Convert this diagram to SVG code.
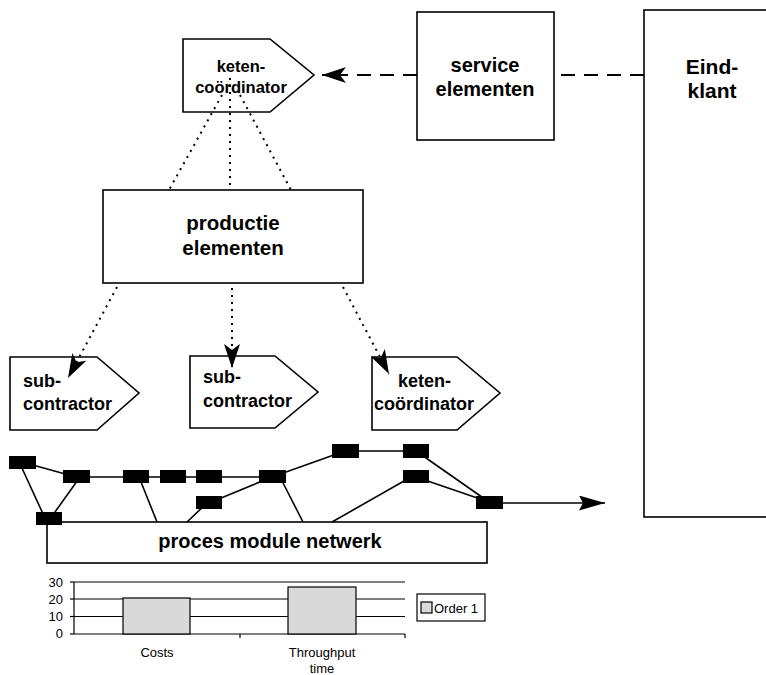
<svg xmlns="http://www.w3.org/2000/svg" width="766" height="675" viewBox="0 0 766 675">
<style>
.shape{fill:#fff;stroke:#000;stroke-width:1.6}
.lbl{font-family:"Liberation Sans",Arial,sans-serif;font-weight:bold;fill:#000}
.dash{fill:none;stroke:#000;stroke-width:2;stroke-dasharray:14 9}
.dot{fill:none;stroke:#000;stroke-width:2;stroke-dasharray:2 5}
.net{fill:none;stroke:#000;stroke-width:1.6}
.blk{fill:#000}
.grid{stroke:#000;stroke-width:1.2;fill:none}
.bar{fill:#d9d9d9;stroke:#000;stroke-width:1.2}
.ct{font-family:"Liberation Sans",Arial,sans-serif;font-size:13px;fill:#000}
</style>
<defs>
<marker id="ah" viewBox="0 0 24 16" refX="24" refY="8" markerWidth="24" markerHeight="16" markerUnits="userSpaceOnUse" orient="auto">
<path d="M0,0 L24,8 L0,16 L6,8 Z" fill="#000"/>
</marker>
<marker id="ah2" viewBox="0 0 26 15" refX="26" refY="7.5" markerWidth="26" markerHeight="15" markerUnits="userSpaceOnUse" orient="auto">
<path d="M0,0 L26,7.5 L0,15 L4,7.5 Z" fill="#000"/>
</marker>
</defs>

<g id="keten-coordinator-top">
<path class="shape" d="M183,39 L270,39 L314,75 L270,112 L183,112 Z"/>
<text class="lbl" font-size="16.5" text-anchor="middle" x="241" y="72">keten-</text>
<text class="lbl" font-size="16.5" text-anchor="middle" x="241" y="93">coördinator</text>
</g>
<g id="service-elementen">
<rect class="shape" x="417" y="12" width="137" height="128"/>
<text class="lbl" font-size="20" text-anchor="middle" x="485" y="72">service</text>
<text class="lbl" font-size="20" text-anchor="middle" x="485" y="96">elementen</text>
</g>
<g id="eind-klant">
<rect class="shape" x="644" y="10" width="140" height="507"/>
<text class="lbl" font-size="21" text-anchor="middle" x="712" y="74">Eind-</text>
<text class="lbl" font-size="21" text-anchor="middle" x="712" y="98">klant</text>
</g>
<g id="productie-elementen">
<rect class="shape" x="103" y="190" width="260" height="93"/>
<text class="lbl" font-size="20.5" text-anchor="middle" x="233" y="230">productie</text>
<text class="lbl" font-size="20.5" text-anchor="middle" x="233" y="255">elementen</text>
</g>
<g id="subcontractor-1">
<path class="shape" d="M10,357 L97,357 L139,393 L97,430 L10,430 Z"/>
<text class="lbl" font-size="18" x="23" y="387">sub-</text>
<text class="lbl" font-size="18" x="23" y="410">contractor</text>
</g>
<g id="subcontractor-2">
<path class="shape" d="M190,356 L275,356 L318,392 L275,428 L190,428 Z"/>
<text class="lbl" font-size="18" x="203" y="383">sub-</text>
<text class="lbl" font-size="18" x="203" y="407">contractor</text>
</g>
<g id="keten-coordinator-2">
<path class="shape" d="M372,357 L457,357 L500,393 L457,430 L372,430 Z"/>
<text class="lbl" font-size="18" x="398" y="387">keten-</text>
<text class="lbl" font-size="18" x="374" y="410">coördinator</text>
</g>
<g id="proces-module-netwerk">
<rect class="shape" x="47" y="522" width="440" height="41"/>
<text class="lbl" font-size="20" text-anchor="middle" x="270" y="548">proces module netwerk</text>
</g>

<g id="connectors">
<line class="dash" x1="644" y1="75" x2="554" y2="75"/>
<line class="dash" x1="417" y1="75" x2="322" y2="75" marker-end="url(#ah)"/>
<line class="dot" x1="222" y1="95" x2="169" y2="190"/>
<line class="dot" x1="230" y1="78" x2="230" y2="190"/>
<line class="dot" x1="240" y1="95" x2="291" y2="190"/>
<line class="dot" x1="117" y1="287" x2="68" y2="378" marker-end="url(#ah)"/>
<line class="dot" x1="232" y1="288" x2="232" y2="368" marker-end="url(#ah)"/>
<line class="dot" x1="343" y1="287" x2="389" y2="374" marker-end="url(#ah)"/>
<line class="net" x1="22" y1="462" x2="76" y2="477"/>
<line class="net" x1="21" y1="466" x2="44" y2="516"/>
<line class="net" x1="80" y1="477" x2="50" y2="519"/>
<line class="net" x1="76" y1="477" x2="272" y2="477"/>
<line class="net" x1="139" y1="477" x2="157" y2="522"/>
<line class="net" x1="208" y1="502" x2="187" y2="522"/>
<line class="net" x1="209" y1="503" x2="272" y2="477"/>
<line class="net" x1="272" y1="477" x2="345" y2="451"/>
<line class="net" x1="345" y1="451" x2="416" y2="451"/>
<line class="net" x1="416" y1="451" x2="489" y2="502"/>
<line class="net" x1="416" y1="477" x2="489" y2="502"/>
<line class="net" x1="280" y1="477" x2="303" y2="522"/>
<line class="net" x1="411" y1="477" x2="332" y2="522"/>
<line class="net" x1="489" y1="503" x2="605" y2="503" marker-end="url(#ah2)"/>
</g>

<g id="network-modules">
<g id="m1"><rect class="blk" x="9" y="456" width="27" height="13"/></g>
<g id="m2"><rect class="blk" x="63" y="470" width="27" height="13"/></g>
<g id="m3"><rect class="blk" x="123" y="470" width="26" height="13"/></g>
<g id="m4"><rect class="blk" x="160" y="470" width="26" height="13"/></g>
<g id="m5"><rect class="blk" x="196" y="470" width="26" height="13"/></g>
<g id="m6"><rect class="blk" x="196" y="496" width="26" height="13"/></g>
<g id="m7"><rect class="blk" x="36" y="512" width="26" height="13"/></g>
<g id="m8"><rect class="blk" x="259" y="470" width="27" height="13"/></g>
<g id="m9"><rect class="blk" x="332" y="444" width="27" height="14"/></g>
<g id="m10"><rect class="blk" x="403" y="444" width="26" height="14"/></g>
<g id="m11"><rect class="blk" x="403" y="470" width="26" height="13"/></g>
<g id="m12"><rect class="blk" x="476" y="496" width="27" height="13"/></g>
</g>

<g id="chart">
<line class="grid" x1="74" y1="582" x2="405" y2="582"/>
<line class="grid" x1="74" y1="599" x2="405" y2="599"/>
<line class="grid" x1="74" y1="616.5" x2="405" y2="616.5"/>
<line class="grid" x1="74" y1="634" x2="405" y2="634"/>
<line class="grid" x1="74" y1="582" x2="74" y2="634"/>
<line class="grid" x1="70" y1="582" x2="74" y2="582"/>
<line class="grid" x1="70" y1="599" x2="74" y2="599"/>
<line class="grid" x1="70" y1="616.5" x2="74" y2="616.5"/>
<line class="grid" x1="70" y1="634" x2="74" y2="634"/>
<line class="grid" x1="240" y1="634" x2="240" y2="638"/>
<line class="grid" x1="405" y1="634" x2="405" y2="638"/>
<rect class="bar" x="123" y="598" width="67" height="36"/>
<rect class="bar" x="288" y="587" width="68" height="47"/>
<text class="ct" text-anchor="end" x="63" y="587">30</text>
<text class="ct" text-anchor="end" x="63" y="604">20</text>
<text class="ct" text-anchor="end" x="63" y="621">10</text>
<text class="ct" text-anchor="end" x="63" y="638">0</text>
<text class="ct" text-anchor="middle" x="157" y="657">Costs</text>
<text class="ct" text-anchor="middle" x="322" y="657">Throughput</text>
<text class="ct" text-anchor="middle" x="322" y="673">time</text>
<rect x="417" y="594" width="68" height="27" fill="#fff" stroke="#000" stroke-width="1.2"/>
<rect class="bar" x="421" y="602" width="11" height="11"/>
<text class="ct" x="434" y="613">Order 1</text>
</g>
</svg>
